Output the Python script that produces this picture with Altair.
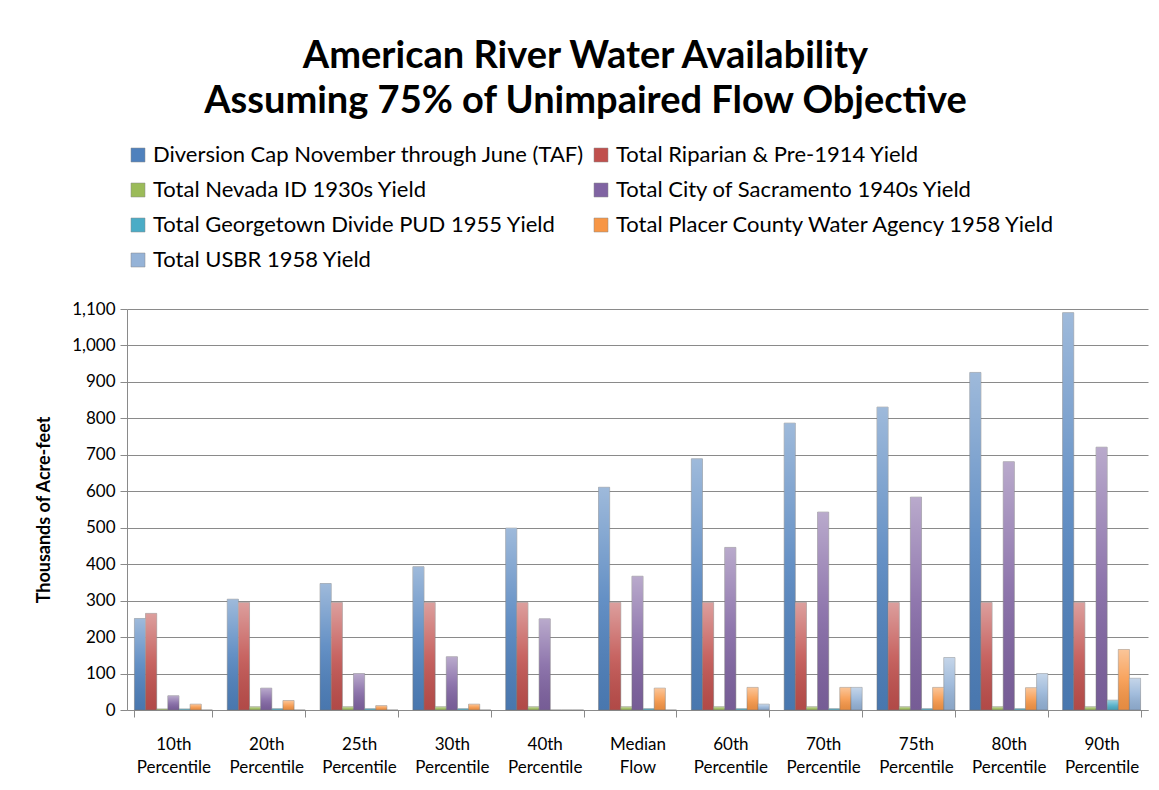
import altair as alt
import pandas as pd

categories = ["10th Percentile", "20th Percentile", "25th Percentile", "30th Percentile",
              "40th Percentile", "Median Flow", "60th Percentile", "70th Percentile",
              "75th Percentile", "80th Percentile", "90th Percentile"]

series = ["Diversion Cap November through June (TAF)",
          "Total Riparian & Pre-1914 Yield",
          "Total Nevada ID 1930s Yield",
          "Total City of Sacramento 1940s Yield",
          "Total Georgetown Divide PUD 1955 Yield",
          "Total Placer County Water Agency 1958 Yield",
          "Total USBR 1958 Yield"]

diversion_cap = [251, 304, 347, 393, 499, 611, 689, 787, 831, 926, 1090]
riparian      = [265, 295, 295, 295, 295, 295, 295, 295, 295, 295, 295]
nevada        = [3, 9, 9, 9, 9, 9, 9, 9, 9, 9, 9]
sacramento    = [39, 60, 100, 146, 250, 367, 446, 543, 584, 681, 721]
georgetown    = [3, 4, 4, 4, 0, 4, 4, 4, 4, 4, 27]
placer        = [16, 26, 12, 16, 0, 60, 62, 62, 62, 61, 166]
usbr          = [0, 0, 0, 0, 0, 0, 16, 62, 144, 100, 87]

colors = ["#4F81BD", "#C0504D", "#9BBB59", "#8064A2", "#4BACC6", "#F79646", "#95B3D7"]

values = [diversion_cap, riparian, nevada, sacramento, georgetown, placer, usbr]
rows = []
for s, vals in zip(series, values):
    for c, v in zip(categories, vals):
        rows.append({"category": c, "series": s, "value": v})
df = pd.DataFrame(rows)

x_enc = alt.X("category:N", sort=categories,
              scale=alt.Scale(paddingInner=0.16, paddingOuter=0.08),
              axis=alt.Axis(title=None, labelAngle=0, tickBand="extent", tickSize=7,
                            labelExpr="datum.value ? split(datum.value, ' ') : ''", labelFontSize=17,
                            labelPadding=19, labelLineHeight=23, grid=False,
                            domainColor="#8a8a8a", tickColor="#8a8a8a", labelColor="#000"))
xo_enc = alt.XOffset("series:N", sort=series, scale=alt.Scale(paddingInner=0.0))
y_enc = alt.Y("value:Q", scale=alt.Scale(domain=[0, 1100]),
              axis=alt.Axis(values=list(range(0, 1101, 100)), format=",.0f", title="Thousands of Acre-feet",
                            titleFontSize=18, titleFontWeight="bold", titlePadding=18,
                            labelFontSize=17, labelPadding=5, tickSize=7,
                            gridColor="#8a8a8a", domainColor="#8a8a8a", tickColor="#8a8a8a",
                            labelColor="#000", titleColor="#000"))

base = alt.Chart(df).mark_bar(stroke="#7a7a7a", strokeWidth=0.5).encode(
    x=x_enc, xOffset=xo_enc, y=y_enc,
    color=alt.Color("series:N", sort=series, scale=alt.Scale(domain=series, range=colors),
                    legend=alt.Legend(orient="none", legendX=0, legendY=-165, columns=2, title=None,
                                      direction="horizontal",
                                      symbolType="square", symbolSize=196, symbolStrokeColor="#888",
                                      symbolStrokeWidth=0.5, labelFontSize=22, labelFont="Lato",
                                      rowPadding=13, columnPadding=5, labelLimit=700, labelOffset=4,
                                      labelColor="#000"))
)

sheen = alt.Chart(df).mark_bar(
    fill=alt.LinearGradient(gradient="linear", x1=0, x2=0, y1=0, y2=1,
                            stops=[alt.GradientStop(color="rgba(255,255,255,0.45)", offset=0),
                                   alt.GradientStop(color="rgba(255,255,255,0.12)", offset=0.5),
                                   alt.GradientStop(color="rgba(0,0,0,0.08)", offset=1)])
).encode(x=x_enc, xOffset=xo_enc, y=y_enc)

chart = alt.layer(base, sheen).properties(
    width=1021, height=401,
    padding={"left": 119, "top": 301, "right": 3, "bottom": 70},
    autosize=alt.AutoSizeParams(type="none"),
    title=alt.TitleParams(text=["American River Water Availability",
                                "Assuming 75% of Unimpaired Flow Objective"],
                          fontSize=38, font="Lato", fontWeight="bold", anchor="middle",
                          dx=-52, offset=23, lineHeight=45, color="#000")
).configure(font="Lato").configure_view(stroke="transparent")

chart.save("out.html", embed_options={"renderer": "svg", "actions": False})
